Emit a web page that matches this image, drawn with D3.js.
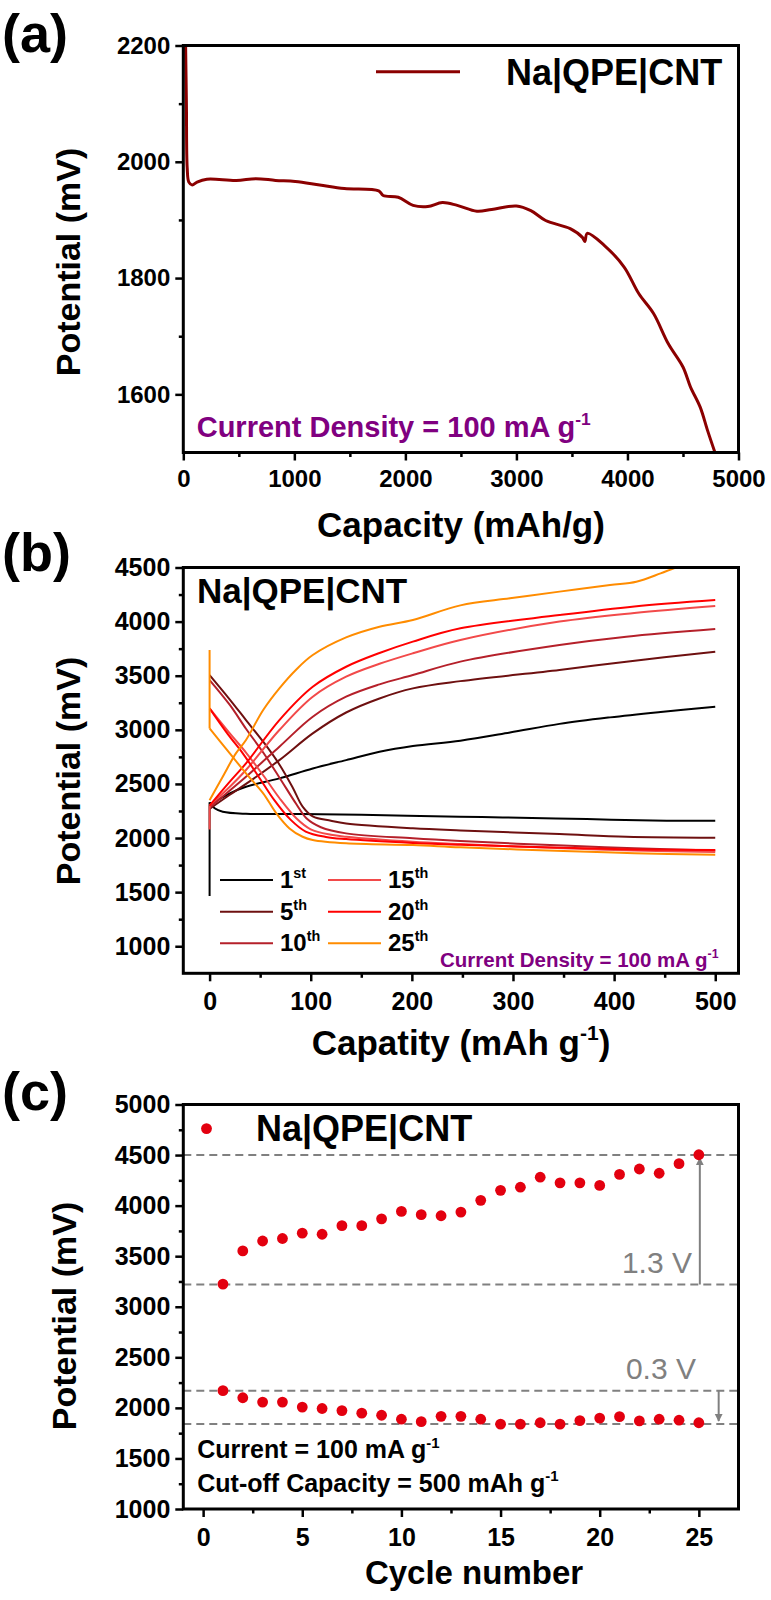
<!DOCTYPE html>
<html>
<head>
<meta charset="utf-8">
<script src="https://cdn.jsdelivr.net/npm/d3@7"></script>
<style>
  html, body { margin: 0; padding: 0; background: #fff; }
  svg { display: block; }
  text { font-family: "Liberation Sans", Arial, sans-serif; }
</style>
</head>
<body>
<script>
// ---------------- DATA ----------------
// Panel (a): single discharge curve [capacity mAh/g, potential mV]
const aCapacity = [20, 28, 35, 50, 80, 124, 212, 477, 654, 831, 1008, 1229, 1450, 1760, 1800, 1936, 2069, 2202, 2334, 2467, 2644, 2777, 3000, 3130, 3263, 3484, 3594, 3616, 3638, 3793, 3970, 4103, 4235, 4368, 4500, 4567, 4655, 4721, 4788];
const aPotential = [2210, 2100, 1990, 1965, 1960, 1965, 1970, 1968, 1971, 1968, 1966, 1960, 1954, 1950, 1942, 1939, 1925, 1923, 1930, 1925, 1915, 1918, 1924, 1916, 1899, 1885, 1870, 1863, 1877, 1856, 1819, 1773, 1739, 1687, 1647, 1613, 1578, 1538, 1500];
const aXTicks = [0, 1000, 2000, 3000, 4000, 5000];
const aYTicks = [1600, 1800, 2000, 2200];

// Panel (b): cycles, each with discharge and charge curves
const bCycles = ["1", "5", "10", "15", "20", "25"];
const bSuffix = ["st", "th", "th", "th", "th", "th"];
const bColors = ["#000000", "#6e1010", "#b5202a", "#f24a4a", "#ff0000", "#ff8c00"];
const bDischarge = [
  [[0,1465],[0,2330],[5,2275],[13,2243],[36,2224],[92,2222],[150,2215],[247,2197],[290,2190],[373,2175],[452,2160],[500,2160]],
  [[0,3506],[20,3280],[36,3090],[53,2890],[69,2680],[82,2470],[92,2290],[102,2200],[120,2160],[135,2135],[201,2090],[248,2070],[346,2037],[412,2012],[500,2003]],
  [[0,3460],[20,3230],[36,3010],[53,2790],[69,2560],[86,2310],[96,2180],[110,2100],[135,2043],[201,1997],[248,1972],[350,1930],[420,1905],[500,1885]],
  [[0,3198],[20,2967],[36,2790],[53,2580],[69,2370],[86,2180],[100,2080],[120,2030],[135,2012],[201,1966],[248,1945],[350,1905],[420,1885],[500,1870]],
  [[0,3198],[18,2960],[33,2780],[49,2560],[64,2350],[80,2170],[95,2060],[115,2010],[135,1990],[201,1955],[248,1938],[350,1910],[420,1895],[500,1890]],
  [[0,3738],[0,3013],[20,2782],[36,2598],[53,2413],[66,2228],[79,2089],[92,2012],[102,1982],[135,1951],[201,1935],[248,1914],[350,1880],[420,1860],[500,1845]]
];
const bCharge = [
  [[0,2305],[20,2413],[36,2474],[69,2551],[102,2643],[135,2720],[168,2797],[201,2850],[248,2900],[297,2975],[346,3055],[396,3115],[446,3165],[500,3214]],
  [[0,2270],[20,2400],[36,2500],[69,2720],[102,2967],[135,3160],[168,3290],[201,3383],[248,3450],[346,3553],[412,3630],[500,3722]],
  [[0,2280],[20,2440],[36,2567],[69,2844],[102,3121],[135,3306],[168,3420],[201,3506],[248,3630],[346,3784],[412,3861],[500,3932]],
  [[0,2080],[0,2300],[20,2474],[36,2629],[69,2998],[102,3306],[135,3491],[168,3610],[201,3707],[248,3830],[346,4000],[420,4080],[500,4145]],
  [[0,2300],[20,2521],[36,2690],[69,3090],[102,3398],[135,3583],[168,3710],[201,3815],[248,3938],[346,4060],[420,4140],[500,4200]],
  [[0,2350],[13,2567],[26,2782],[36,2906],[53,3183],[69,3383],[86,3560],[102,3691],[135,3854],[168,3953],[201,4015],[248,4150],[297,4215],[346,4277],[396,4338],[422,4369],[446,4446],[461,4500]]
];
const bXTicks = [0, 100, 200, 300, 400, 500];
const bYTicks = [1000, 1500, 2000, 2500, 3000, 3500, 4000, 4500];

// Panel (c): potential at cut-off vs cycle number
const cCycle = [1,2,3,4,5,6,7,8,9,10,11,12,13,14,15,16,17,18,19,20,21,22,23,24,25];
const cUpper = [3224,3552,3650,3675,3728,3717,3802,3802,3869,3943,3911,3900,3936,4052,4151,4182,4281,4225,4225,4200,4309,4362,4320,4415,4503];
const cLower = [2170,2100,2057,2057,2008,1994,1973,1948,1927,1888,1864,1916,1916,1888,1839,1839,1853,1839,1874,1899,1913,1871,1888,1878,1853];
const cRefLines = [4500, 3220, 2170, 1840];
const cXTicks = [0, 5, 10, 15, 20, 25];
const cYTicks = [1000, 1500, 2000, 2500, 3000, 3500, 4000, 4500, 5000];

// ---------------- DRAW ----------------
const svg = d3.select("body").append("svg").attr("width", 771).attr("height", 1600);
svg.append("rect").attr("width", 771).attr("height", 1600).attr("fill", "#fff");

const L = 183.3, R = 738.5;

function frameAndAxes(x, y, xTicks, xMinor, yTicks, yMinor, tickFont, xPad, clipId) {
  const g = svg.append("g");
  const [y0, y1] = y.range();
  g.append("g").attr("transform", `translate(0,${y0})`)
    .call(d3.axisBottom(x).tickValues(xMinor).tickSize(4.5).tickFormat(""))
    .call(s => s.select(".domain").remove())
    .call(s => s.selectAll("line").attr("stroke", "#000").attr("stroke-width", 2.5));
  g.append("g").attr("transform", `translate(${L},0)`)
    .call(d3.axisLeft(y).tickValues(yMinor).tickSize(4.5).tickFormat(""))
    .call(s => s.select(".domain").remove())
    .call(s => s.selectAll("line").attr("stroke", "#000").attr("stroke-width", 2.5));
  g.append("g").attr("transform", `translate(0,${y0})`)
    .call(d3.axisBottom(x).tickValues(xTicks).tickSize(8).tickPadding(xPad).tickFormat(d3.format("d")))
    .call(s => s.select(".domain").remove())
    .call(s => s.selectAll("line").attr("stroke", "#000").attr("stroke-width", 2.5))
    .call(s => s.selectAll("text").attr("fill", "#000").attr("font-size", tickFont).attr("font-weight", "bold")
      .attr("font-family", '"Liberation Sans", Arial, sans-serif'));
  g.append("g").attr("transform", `translate(${L},0)`)
    .call(d3.axisLeft(y).tickValues(yTicks).tickSize(8).tickPadding(5).tickFormat(d3.format("d")))
    .call(s => s.select(".domain").remove())
    .call(s => s.selectAll("line").attr("stroke", "#000").attr("stroke-width", 2.5))
    .call(s => s.selectAll("text").attr("fill", "#000").attr("font-size", tickFont).attr("font-weight", "bold")
      .attr("font-family", '"Liberation Sans", Arial, sans-serif'));
  svg.append("clipPath").attr("id", clipId).append("rect")
    .attr("x", L).attr("y", y1).attr("width", R - L).attr("height", y0 - y1);
  return g;
}
function frame(y) {
  const [y0, y1] = y.range();
  svg.append("rect").attr("x", L).attr("y", y1).attr("width", R - L).attr("height", y0 - y1)
    .attr("fill", "none").attr("stroke", "#000").attr("stroke-width", 3);
}
function txt(x, y, s, size, opts = {}) {
  return svg.append("text").attr("x", x).attr("y", y).text(s)
    .attr("font-size", size).attr("font-weight", opts.weight || "bold")
    .attr("fill", opts.fill || "#000").attr("text-anchor", opts.anchor || "start");
}
function supText(x, y, main, sup, tail, size, opts = {}) {
  const t = svg.append("text").attr("x", x).attr("y", y)
    .attr("font-size", size).attr("font-weight", "bold").attr("fill", opts.fill || "#000")
    .attr("text-anchor", opts.anchor || "start");
  t.append("tspan").text(main);
  t.append("tspan").text(sup).attr("font-size", size * 0.6).attr("dy", -size * 0.42);
  if (tail) t.append("tspan").text(tail).attr("dy", size * 0.42);
  return t;
}
function yTitle(cx, cy, s, size) {
  svg.append("text").attr("transform", `translate(${cx},${cy}) rotate(-90)`)
    .attr("text-anchor", "middle").attr("font-size", size).attr("font-weight", "bold").text(s);
}

// ----- Panel (a)
const ax = d3.scaleLinear().domain([0, 5000]).range([L, R]);
const ay = d3.scaleLinear().domain([1500, 2200]).range([452.5, 45.5]);
frameAndAxes(ax, ay, aXTicks, d3.range(500, 5000, 1000), aYTicks, [1700, 1900, 2100], 24, 9, "clipA");
svg.append("path").datum(d3.zip(aCapacity, aPotential))
  .attr("clip-path", "url(#clipA)")
  .attr("fill", "none").attr("stroke", "#8b0000").attr("stroke-width", 3).attr("stroke-linejoin", "round")
  .attr("d", d3.line().curve(d3.curveCatmullRom.alpha(0.5)).x(d => ax(d[0])).y(d => ay(d[1])));
frame(ay);
txt(2, 52, "(a)", 54);
yTitle(80, 262, "Potential (mV)", 34);
txt(461, 537, "Capacity (mAh/g)", 35, { anchor: "middle" });
svg.append("line").attr("x1", 376).attr("x2", 460).attr("y1", 71.7).attr("y2", 71.7)
  .attr("stroke", "#8b0000").attr("stroke-width", 3);
txt(506, 85, "Na|QPE|CNT", 36);
supText(196.7, 436.7, "Current Density = 100 mA g", "-1", null, 29, { fill: "#800080" });

// ----- Panel (b)
const bx = d3.scaleLinear().domain([-26, 523]).range([L, R]);
const by = d3.scaleLinear().domain([750, 4500]).range([973.3, 567.5]);
frameAndAxes(bx, by, bXTicks, d3.range(50, 500, 100), bYTicks, d3.range(1250, 4500, 500), 25, 11, "clipB");
const bSmooth = d3.line().curve(d3.curveCatmullRom.alpha(0.5)).x(d => bx(d[0])).y(d => by(d[1]));
const bStraight = d3.line().x(d => bx(d[0])).y(d => by(d[1]));
const bg = svg.append("g").attr("clip-path", "url(#clipB)");
bCycles.forEach((c, i) => {
  [bDischarge[i], bCharge[i]].forEach(curve => {
    // a leading vertical step at zero capacity is drawn straight, the rest smoothly
    let start = 0;
    if (curve.length > 2 && curve[0][0] === curve[1][0]) {
      bg.append("path").datum(curve.slice(0, 2)).attr("fill", "none").attr("stroke", bColors[i])
        .attr("stroke-width", 2).attr("d", bStraight);
      start = 1;
    }
    bg.append("path").datum(curve.slice(start)).attr("fill", "none").attr("stroke", bColors[i])
      .attr("stroke-width", 2).attr("stroke-linejoin", "round").attr("d", bSmooth);
  });
});
frame(by);
txt(2, 571, "(b)", 54);
yTitle(80, 771, "Potential (mV)", 34);
supText(461, 1055, "Capatity (mAh g", "-1", ")", 35, { anchor: "middle" });
txt(197, 603, "Na|QPE|CNT", 35);
const legRows = [880, 911.7, 943.3];
bCycles.forEach((c, i) => {
  const col = Math.floor(i / 3), row = i % 3;
  const lx = col === 0 ? 220 : 328;
  const ly = legRows[row];
  svg.append("line").attr("x1", lx).attr("x2", lx + 53).attr("y1", ly).attr("y2", ly)
    .attr("stroke", bColors[i]).attr("stroke-width", 2);
  supText(lx + 60, ly + 8, c, bSuffix[i], null, 24);
});
supText(440, 966.7, "Current Density = 100 mA g", "-1", null, 20.5, { fill: "#800080" });

// ----- Panel (c)
const cx = d3.scaleLinear().domain([-1, 27]).range([L, R]);
const cy = d3.scaleLinear().domain([1000, 5000]).range([1509, 1104.5]);
frameAndAxes(cx, cy, cXTicks, [2.5, 7.5, 12.5, 17.5, 22.5], cYTicks, d3.range(1250, 5000, 500), 25, 11, "clipC");
svg.append("g").selectAll("line").data(cRefLines).join("line")
  .attr("x1", L).attr("x2", R).attr("y1", d => cy(d)).attr("y2", d => cy(d))
  .attr("stroke", "#808080").attr("stroke-width", 2).attr("stroke-dasharray", "8,5");
svg.append("defs").html(
  '<marker id="arr" viewBox="0 0 10 10" refX="9" refY="5" markerWidth="4" markerHeight="5" orient="auto">' +
  '<path d="M0,0 L10,5 L0,10 z" fill="#808080"/></marker>');
svg.append("line").attr("x1", cx(25.05)).attr("x2", cx(25.05)).attr("y1", cy(3220)).attr("y2", cy(4500) + 3)
  .attr("stroke", "#808080").attr("stroke-width", 2).attr("marker-end", "url(#arr)");
svg.append("line").attr("x1", cx(26)).attr("x2", cx(26)).attr("y1", cy(2170)).attr("y2", cy(1840) - 3)
  .attr("stroke", "#808080").attr("stroke-width", 2).attr("marker-end", "url(#arr)");
txt(692, 1273.3, "1.3 V", 30, { weight: "normal", fill: "#808080", anchor: "end" });
txt(696, 1379, "0.3 V", 30, { weight: "normal", fill: "#808080", anchor: "end" });
svg.append("g").selectAll("circle").data(d3.zip(cCycle, cUpper).concat(d3.zip(cCycle, cLower))).join("circle")
  .attr("cx", d => cx(d[0])).attr("cy", d => cy(d[1])).attr("r", 5.4).attr("fill", "#e3000f");
frame(cy);
txt(2, 1110, "(c)", 54);
yTitle(76, 1316, "Potential (mV)", 34);
txt(474, 1584, "Cycle number", 33, { anchor: "middle" });
svg.append("circle").attr("cx", 206.5).attr("cy", 1128.6).attr("r", 5.4).attr("fill", "#e3000f");
txt(256, 1140.7, "Na|QPE|CNT", 36);
supText(197.3, 1458.3, "Current = 100 mA g", "-1", null, 25);
supText(197.3, 1491.7, "Cut-off Capacity = 500 mAh g", "-1", null, 25);
</script>
</body>
</html>
